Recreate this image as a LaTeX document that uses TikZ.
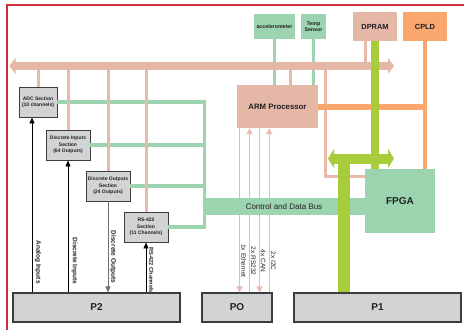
\documentclass[tikz,border=0pt]{standalone}
\usepackage{fontspec}
\setmainfont{Liberation Sans}
\usetikzlibrary{arrows.meta}
\definecolor{busp}{HTML}{E4B7A7}
\definecolor{thinp}{HTML}{EAB9AB}
\definecolor{mint}{HTML}{9CD4AF}
\definecolor{limec}{HTML}{A7CD3A}
\definecolor{orng}{HTML}{F9A76D}
\definecolor{boxg}{HTML}{D2D3D5}
\definecolor{boxl}{HTML}{3C3C3C}
\definecolor{txt}{HTML}{231F20}
\definecolor{redf}{HTML}{CF2E38}
\definecolor{gline}{HTML}{707070}
\begin{document}
\begin{tikzpicture}[x=1pt,y=-1pt,
 graybox/.style={draw=boxl,fill=boxg,line width=0.9pt,inner sep=0pt,align=center,text=txt,font=\fontsize{5}{6.5}\selectfont\bfseries},
 pbox/.style={draw=boxl,fill=boxg,line width=1.2pt,inner sep=0pt,minimum height=29pt,text=txt,font=\fontsize{10}{12}\selectfont\bfseries},
 fillbox/.style={inner sep=0pt,align=center,text=txt},
 mintline/.style={draw=mint,line width=3.5pt},
 pinkline/.style={draw=thinp,line width=3pt},
 sigline/.style={draw=thinp,line width=1.6pt,-{Triangle[width=6pt,length=6pt]}},
 blkline/.style={draw=black,line width=0.9pt,-{Triangle[width=5pt,length=6pt]}},
 vlabel/.style={rotate=-90,inner sep=0pt,text=txt},
 plab/.style={vlabel,font=\fontsize{6.5}{7}\selectfont\bfseries},
 slab/.style={vlabel,font=\fontsize{6.5}{7}\selectfont},
]
\useasboundingbox (0,0) rectangle (464,330);
\draw[redf,line width=2pt] (7,330) -- (7,5) -- (464,5);

% boxes (positions)
\node[graybox,minimum width=38pt,minimum height=30pt] (adc) at (38,102) {ADC Section\\(10 channels)};
\node[graybox,minimum width=44pt,minimum height=30pt] (din) at (68,145) {Discrete Inputs\\Section\\(64 Outputs)};
\node[graybox,minimum width=44pt,minimum height=30pt] (dout) at (108,186) {Discrete Outputs\\Section\\(24 Outputs)};
\node[graybox,minimum width=44pt,minimum height=30pt] (rs) at (146,227) {RS-422\\Section\\(11 Channels)};
\node[pbox,minimum width=167pt] (p2) at (96.5,307.5) {P2};
\node[pbox,minimum width=70pt] (po) at (237,307.5) {PO};
\node[pbox,minimum width=167pt] (p1) at (377.5,307.5) {P1};

\coordinate (busc) at (0,66);
\coordinate (busL) at (9.5,66);
\coordinate (busR) at (394,66);
\coordinate (gx) at (204.5,0);

% green links from sections
\draw[mintline,line join=miter] (adc.east) -- (adc.east -| gx) -- (gx |- rs.east) -- (rs.east);
\draw[mintline] (din.east) -- (din.east -| gx);
\draw[mintline] (dout.east) -- (dout.east -| gx);

% ARM and sensors
\node[fillbox,fill=busp,minimum width=81pt,minimum height=43pt,font=\fontsize{7.8}{9}\selectfont\bfseries] (arm) at (277.5,106.5) {ARM Processor};
\node[fillbox,fill=mint,minimum width=41pt,minimum height=25pt,font=\fontsize{5.3}{6}\selectfont\bfseries] (acc) at (274.5,26.5) {accelerometer};
\node[fillbox,fill=mint,minimum width=25pt,minimum height=25pt,font=\fontsize{5.3}{6}\selectfont\bfseries] (temp) at (313.5,26.5) {Temp\\Sensor};
\node[fillbox,fill=busp,minimum width=44pt,minimum height=29pt,font=\fontsize{7.4}{9}\selectfont\bfseries] (dpram) at (375,26.5) {DPRAM};
\node[fillbox,fill=orng,minimum width=44pt,minimum height=29pt,font=\fontsize{7.4}{9}\selectfont\bfseries] (cpld) at (425,26.5) {CPLD};

\draw[mintline] (acc.south) -- (acc.south |- arm.north);
\draw[mintline] (temp.south) -- (temp.south |- arm.north);

% pink drops from bus
\draw[pinkline] (adc.north) -- (adc.north |- busc);
\draw[pinkline] (din.north) -- (din.north |- busc);
\draw[pinkline] (dout.north) -- (dout.north |- busc);
\draw[pinkline] (rs.north) -- (rs.north |- busc);
\coordinate (ap) at (290,0);
\coordinate (dp) at (365.5,0);
\coordinate (fp) at (325,176);
\draw[pinkline] (ap |- arm.north) -- (ap |- busc);
\draw[pinkline] (dp |- dpram.south) -- (dp |- busc);

% ARM signals to PO
\coordinate (s1) at (239.5,0);
\coordinate (s2) at (249.5,0);
\coordinate (s3) at (259.5,0);
\coordinate (s4) at (269.3,0);
\draw[sigline] (s1 |- arm.south) -- (s1 |- po.north);
\draw[sigline] (s2 |- po.north) -- (s2 |- arm.south);
\draw[sigline] (s3 |- arm.south) -- (s3 |- po.north);
\draw[sigline] (s4 |- po.north) -- (s4 |- arm.south);
\node[slab] (l1) at (243.6,261) {1x Ethernet};
\node[slab] (l2) at (253.4,261) {2x RS232};
\node[slab] (l3) at (263.2,261) {4x CAN};
\node[slab] (l4) at (273.3,261) {2x I2C};

% FPGA
\node[fillbox,fill=mint,minimum width=70pt,minimum height=64pt,font=\fontsize{10}{12}\selectfont\bfseries] (fpga) at (400,201) {FPGA};
\draw[pinkline,line join=miter] (fp |- busc) -- (fp) -- (fpga.west |- fp);

% control and data bus band
\node[fillbox,fill=mint,minimum width=162pt,minimum height=17pt,font=\fontsize{8}{9}\selectfont] (cbus) at (284,206.5) {Control and Data Bus};

% main pink bus
\draw[busp,line width=8pt,{Triangle[width=16pt,length=6pt]}-{Triangle[width=16pt,length=6pt]}] (busL) -- (busR);

% orange
\coordinate (ox) at (424.5,0);
\draw[orng,line width=6pt] (arm.east) -- (arm.east -| ox);
\draw[orng,line width=4pt] (cpld.south -| ox) -- (fpga.north -| ox);

% lime
\coordinate (laL) at (328,158.5);
\coordinate (laR) at (394,158.5);
\coordinate (lv) at (344,158.5);
\draw[limec,line width=8pt] (dpram.south) -- (dpram.south |- fpga.north);
\draw[limec,line width=10pt,{Triangle[width=19pt,length=6pt]}-{Triangle[width=19pt,length=6pt]}] (laL) -- (laR);
\draw[limec,line width=12pt] (lv) -- (lv |- p1.north);

% black I/O arrows
\coordinate (ai) at (32,0);
\draw[blkline] (ai |- p2.north) -- (ai |- adc.south);
\draw[blkline] (din.south |- p2.north) -- (din.south);
\draw[blkline,draw=gline] (dout.south) -- (dout.south |- p2.north);
\draw[blkline] (rs.south |- p2.north) -- (rs.south);
\node[plab] (la) at (38,262) {Analog Inputs};
\node[plab] (lb) at (74.5,261) {Discrete Inputs};
\node[plab] (lc) at (113,257) {Discrete Outputs};
\node[plab,font=\fontsize{5.6}{6}\selectfont\bfseries] (ld) at (151.5,270) {RS-422 Channels};
\end{tikzpicture}
\end{document}
